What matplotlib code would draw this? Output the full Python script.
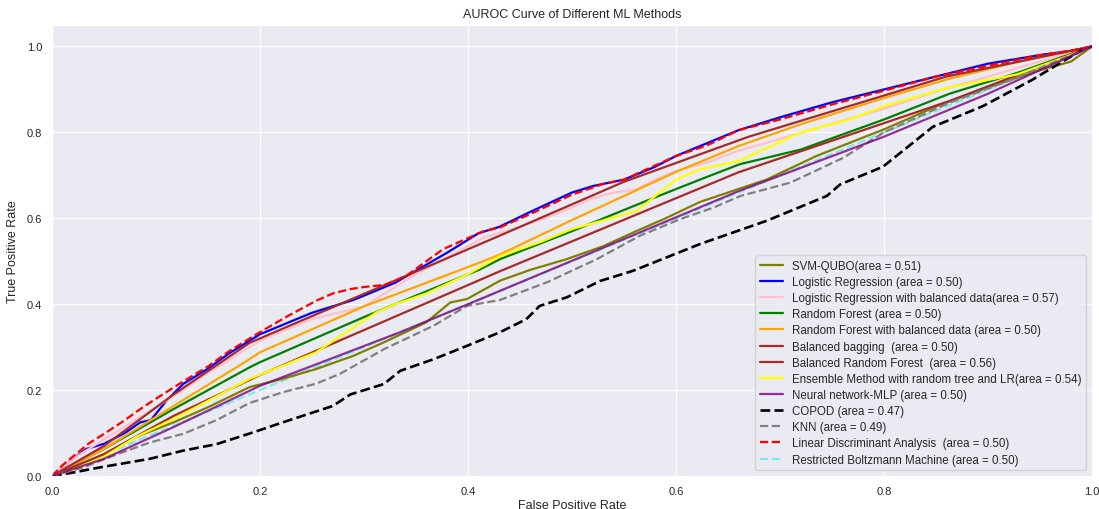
import matplotlib
matplotlib.use("Agg")
import matplotlib.pyplot as plt
import seaborn as sns

# ROC points (false positive rate, true positive rate)
svm_fpr = [0, 0.02, 0.05, 0.08, 0.117, 0.15, 0.19, 0.22, 0.254, 0.29, 0.319, 0.34, 0.36, 0.383, 0.399,
           0.431, 0.46, 0.495, 0.53, 0.559, 0.59, 0.623, 0.687, 0.735, 0.783, 0.8, 0.85, 0.9, 0.95, 0.98, 1.0]
svm_tpr = [0, 0.02, 0.05, 0.09, 0.125, 0.16, 0.207, 0.225, 0.249, 0.28, 0.311, 0.335, 0.358, 0.404, 0.412,
           0.455, 0.48, 0.505, 0.535, 0.567, 0.6, 0.638, 0.69, 0.745, 0.791, 0.807, 0.86, 0.905, 0.945, 0.965, 1.0]

lr_fpr = [0, 0.01, 0.02, 0.033, 0.05, 0.07, 0.085, 0.095, 0.11, 0.126, 0.15, 0.17, 0.2, 0.225, 0.25, 0.27,
          0.29, 0.31, 0.33, 0.355, 0.38, 0.41, 0.43, 0.46, 0.5, 0.52, 0.55, 0.58, 0.6, 0.63, 0.66, 0.7,
          0.75, 0.8, 0.85, 0.9, 0.95, 0.98, 1.0]
lr_tpr = [0, 0.02, 0.04, 0.063, 0.075, 0.1, 0.125, 0.13, 0.175, 0.214, 0.25, 0.285, 0.33, 0.355, 0.38, 0.395,
          0.41, 0.43, 0.45, 0.485, 0.52, 0.565, 0.58, 0.615, 0.66, 0.675, 0.69, 0.72, 0.745, 0.775, 0.805, 0.835,
          0.87, 0.9, 0.93, 0.96, 0.98, 0.99, 1.0]

lrb_fpr = [0, 0.02, 0.05, 0.08, 0.1, 0.126, 0.15, 0.2, 0.25, 0.3, 0.35, 0.4, 0.415, 0.45, 0.476, 0.5,
           0.517, 0.54, 0.562, 0.58, 0.6, 0.63, 0.66, 0.7, 0.75, 0.8, 0.85, 0.9, 0.95, 1.0]
lrb_tpr = [0, 0.04, 0.085, 0.13, 0.16, 0.2, 0.24, 0.315, 0.365, 0.395, 0.47, 0.535, 0.555, 0.58, 0.602, 0.625,
           0.644, 0.66, 0.667, 0.69, 0.71, 0.73, 0.757, 0.785, 0.82, 0.855, 0.895, 0.93, 0.965, 1.0]

rf_fpr = [0, 0.05, 0.117, 0.19, 0.2, 0.3, 0.335, 0.4115, 0.431, 0.5, 0.575, 0.623, 0.6615, 0.72, 0.8,
          0.863, 0.93, 1.0]
rf_tpr = [0, 0.063, 0.156, 0.253, 0.265, 0.37, 0.405, 0.481, 0.505, 0.57, 0.644, 0.69, 0.726, 0.76, 0.83,
          0.89, 0.94, 1.0]

rfb_fpr = [0, 0.05, 0.117, 0.19, 0.2, 0.3, 0.4115, 0.431, 0.5, 0.55, 0.6, 0.66, 0.72, 0.8, 0.863, 0.93, 1.0]
rfb_tpr = [0, 0.063, 0.163, 0.272, 0.288, 0.395, 0.497, 0.516, 0.596, 0.652, 0.708, 0.768, 0.819, 0.88,
           0.925, 0.965, 1.0]

bag_fpr = [0, 0.05, 0.117, 0.2, 0.431, 0.66, 0.863, 1.0]
bag_tpr = [0, 0.051, 0.14, 0.235, 0.477, 0.707, 0.873, 1.0]

brf_fpr = [0, 0.05, 0.117, 0.19, 0.3, 0.43, 0.55, 0.67, 0.86, 1.0]
brf_tpr = [0, 0.07, 0.19, 0.31, 0.424, 0.559, 0.685, 0.79, 0.93, 1.0]

ens_fpr = [0, 0.02, 0.05, 0.08, 0.117, 0.15, 0.19, 0.22, 0.254, 0.28, 0.312, 0.33, 0.36, 0.4, 0.431,
           0.47, 0.5, 0.53, 0.562, 0.6, 0.623, 0.66, 0.72, 0.767, 0.8, 0.863, 0.928, 0.976, 1.0]
ens_tpr = [0, 0.015, 0.045, 0.09, 0.133, 0.175, 0.226, 0.255, 0.288, 0.33, 0.381, 0.4, 0.425, 0.47, 0.512,
           0.545, 0.575, 0.595, 0.617, 0.69, 0.714, 0.733, 0.8, 0.83, 0.861, 0.905, 0.935, 0.977, 1.0]

mlp_fpr = [0, 0.05, 0.117, 0.2, 0.335, 0.41, 0.66, 0.8, 0.9, 1.0]
mlp_tpr = [0, 0.04, 0.114, 0.21, 0.335, 0.41, 0.663, 0.79, 0.89, 1.0]

copod_fpr = [0, 0.02, 0.046, 0.07, 0.094, 0.126, 0.158, 0.194, 0.222, 0.27, 0.287, 0.319, 0.335, 0.367,
             0.399, 0.431, 0.456, 0.469, 0.495, 0.527, 0.559, 0.591, 0.623, 0.687, 0.745, 0.758, 0.799,
             0.847, 0.895, 0.943, 0.991, 1.0]
copod_tpr = [0, 0.008, 0.02, 0.03, 0.04, 0.059, 0.074, 0.102, 0.125, 0.163, 0.19, 0.214, 0.245, 0.272,
             0.303, 0.335, 0.365, 0.396, 0.416, 0.454, 0.478, 0.509, 0.54, 0.594, 0.652, 0.679, 0.72,
             0.813, 0.861, 0.923, 0.993, 1.0]

knn_fpr = [0, 0.03, 0.062, 0.094, 0.126, 0.158, 0.19, 0.222, 0.254, 0.277, 0.319, 0.367, 0.399, 0.431,
           0.476, 0.524, 0.565, 0.604, 0.636, 0.662, 0.71, 0.761, 0.8, 0.863, 0.92, 0.96, 1.0]
knn_tpr = [0, 0.02, 0.05, 0.078, 0.098, 0.13, 0.17, 0.195, 0.215, 0.238, 0.295, 0.35, 0.396, 0.41,
           0.451, 0.505, 0.559, 0.598, 0.625, 0.652, 0.683, 0.741, 0.8, 0.869, 0.92, 0.96, 1.0]

lda_fpr = [0, 0.01, 0.02, 0.035, 0.05, 0.07, 0.085, 0.1, 0.126, 0.15, 0.17, 0.2, 0.225, 0.254, 0.27,
           0.2865, 0.3, 0.32, 0.34, 0.376, 0.415, 0.431, 0.46, 0.5, 0.53, 0.55, 0.6, 0.63, 0.66, 0.7,
           0.75, 0.8, 0.85, 0.9, 0.95, 0.98, 1.0]
lda_tpr = [0, 0.025, 0.045, 0.075, 0.098, 0.13, 0.156, 0.18, 0.22, 0.255, 0.29, 0.335, 0.37, 0.408, 0.425,
           0.435, 0.44, 0.445, 0.465, 0.528, 0.57, 0.579, 0.61, 0.655, 0.68, 0.69, 0.745, 0.77, 0.805, 0.83,
           0.865, 0.897, 0.93, 0.955, 0.98, 0.99, 1.0]

rbm_fpr = [0, 1.0]
rbm_tpr = [0, 1.0]

sns.set_style("darkgrid")
plt.rcParams['font.family'] = ['Liberation Sans', 'DejaVu Sans']

fig = plt.figure(figsize=(10.99, 5.10), dpi=100)
ax = fig.add_axes([0.0473, 0.0647, 0.9463, 0.8843])

lw = 1.6
ax.plot(svm_fpr, svm_tpr, color='olive', lw=lw, label='SVM-QUBO(area = 0.51)')
ax.plot(lr_fpr, lr_tpr, color='blue', lw=lw, label='Logistic Regression (area = 0.50)')
ax.plot(lrb_fpr, lrb_tpr, color='pink', lw=lw, label='Logistic Regression with balanced data(area = 0.57)')
ax.plot(rf_fpr, rf_tpr, color='green', lw=lw, label='Random Forest (area = 0.50)')
ax.plot(rfb_fpr, rfb_tpr, color='orange', lw=lw, label='Random Forest with balanced data (area = 0.50)')
ax.plot(bag_fpr, bag_tpr, color='brown', lw=lw, label='Balanced bagging  (area = 0.50)')
ax.plot(brf_fpr, brf_tpr, color='brown', lw=lw, label='Balanced Random Forest  (area = 0.56)')
ax.plot(ens_fpr, ens_tpr, color='yellow', lw=lw, label='Ensemble Method with random tree and LR(area = 0.54)')
ax.plot(mlp_fpr, mlp_tpr, color='purple', lw=lw, alpha=0.8, label='Neural network-MLP (area = 0.50)', zorder=3)
ax.plot(copod_fpr, copod_tpr, color='black', lw=1.9, ls='--', label='COPOD (area = 0.47)')
ax.plot(knn_fpr, knn_tpr, color='grey', lw=lw, ls='--', label='KNN (area = 0.49)')
ax.plot(lda_fpr, lda_tpr, color='red', lw=lw, ls='--', label='Linear Discriminant Analysis  (area = 0.50)')
ax.plot(rbm_fpr, rbm_tpr, color='#7fe8e8', lw=lw, ls='--', label='Restricted Boltzmann Machine (area = 0.50)',
        zorder=1.5)

ax.set_xlim(0.0, 1.0)
ax.set_ylim(0.0, 1.05)
ax.set_xlabel('False Positive Rate', fontsize=9, labelpad=2)
ax.set_ylabel('True Positive Rate', fontsize=9, labelpad=6)
ax.set_title('AUROC Curve of Different ML Methods', fontsize=9, pad=6)
ax.tick_params(labelsize=8)
ax.legend(loc='lower right', fontsize=8.3, labelspacing=0.36)

fig.savefig('out.png', dpi=100)
